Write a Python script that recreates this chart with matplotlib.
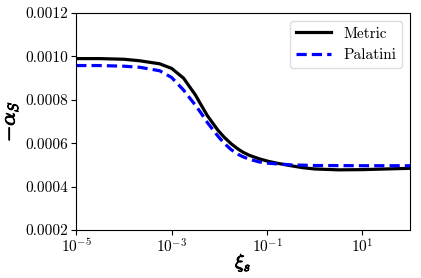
import numpy as np
import matplotlib
matplotlib.use("Agg")
import matplotlib.pyplot as plt
import matplotlib.patheffects as pe
from matplotlib.ticker import FixedLocator, NullLocator

plt.rcParams['font.family'] = 'serif'
plt.rcParams['font.serif'] = ['cmr10']
plt.rcParams['mathtext.fontset'] = 'cm'
plt.rcParams['axes.unicode_minus'] = False
plt.rcParams['axes.formatter.use_mathtext'] = True

# values (log10 of xi_s, -alpha_s)
logxi_metric = [-5, -4.5, -4, -3.67, -3.25, -3, -2.75, -2.5, -2.38, -2.25, -2.03,
                -1.9, -1.75, -1.6, -1.5, -1.36, -1.15, -0.95, -0.75, -0.5, -0.25,
                0, 0.5, 1, 1.5, 2]
alpha_metric = [0.000990, 0.000990, 0.000987, 0.000980, 0.000966, 0.000945,
                0.000900, 0.000822, 0.000776, 0.000727, 0.000660, 0.000628,
                0.000597, 0.000572, 0.000558, 0.000543, 0.000527, 0.000515,
                0.000506, 0.000496, 0.000487, 0.000481, 0.000477, 0.000478,
                0.000481, 0.000484]

logxi_palatini = [-5, -4.5, -4, -3.67, -3.25, -3, -2.75, -2.5, -2.38, -2.25,
                  -2.03, -1.9, -1.75, -1.6, -1.5, -1.36, -1.15, -0.95, -0.5, 0,
                  1, 2]
alpha_palatini = [0.000958, 0.000958, 0.000955, 0.000950, 0.000934, 0.000903,
                  0.000845, 0.000775, 0.000738, 0.000695, 0.000633, 0.000600,
                  0.000570, 0.000548, 0.000537, 0.000525, 0.000513, 0.000507,
                  0.000500, 0.000497, 0.000496, 0.000496]

fig = plt.figure(figsize=(4.21, 2.78), dpi=100)
ax = fig.add_axes([0.181, 0.173, 0.793, 0.78])

ax.plot(10.0 ** np.array(logxi_metric), alpha_metric, color='black', lw=2.3, label='Metric')
ax.plot(10.0 ** np.array(logxi_palatini), alpha_palatini, color='blue', lw=2.3,
        ls=(0, (3.2, 1.6)), label='Palatini')

ax.set_xscale('log')
ax.set_xlim(1e-5, 1e2)
ax.set_ylim(0.0002, 0.0012)
ax.xaxis.set_major_locator(FixedLocator([1e-5, 1e-3, 1e-1, 1e1]))
ax.xaxis.set_minor_locator(NullLocator())
ax.set_yticks([0.0002, 0.0004, 0.0006, 0.0008, 0.0010, 0.0012])
ax.set_yticklabels(['0.0002', '0.0004', '0.0006', '0.0008', '0.0010', '0.0012'])
ax.tick_params(labelsize=11, pad=2)

bold = [pe.withStroke(linewidth=0.7, foreground='black')]
ax.set_xlabel(r'$\xi_s$', fontsize=14, labelpad=-3, path_effects=bold)
ax.set_ylabel(r'$-\alpha_S$', fontsize=15, labelpad=4, path_effects=bold)

ax.legend(loc='upper right', fontsize=11, handlelength=2.3, framealpha=1,
          edgecolor='#dddddd', fancybox=True)

fig.savefig('out.png', dpi=100)
